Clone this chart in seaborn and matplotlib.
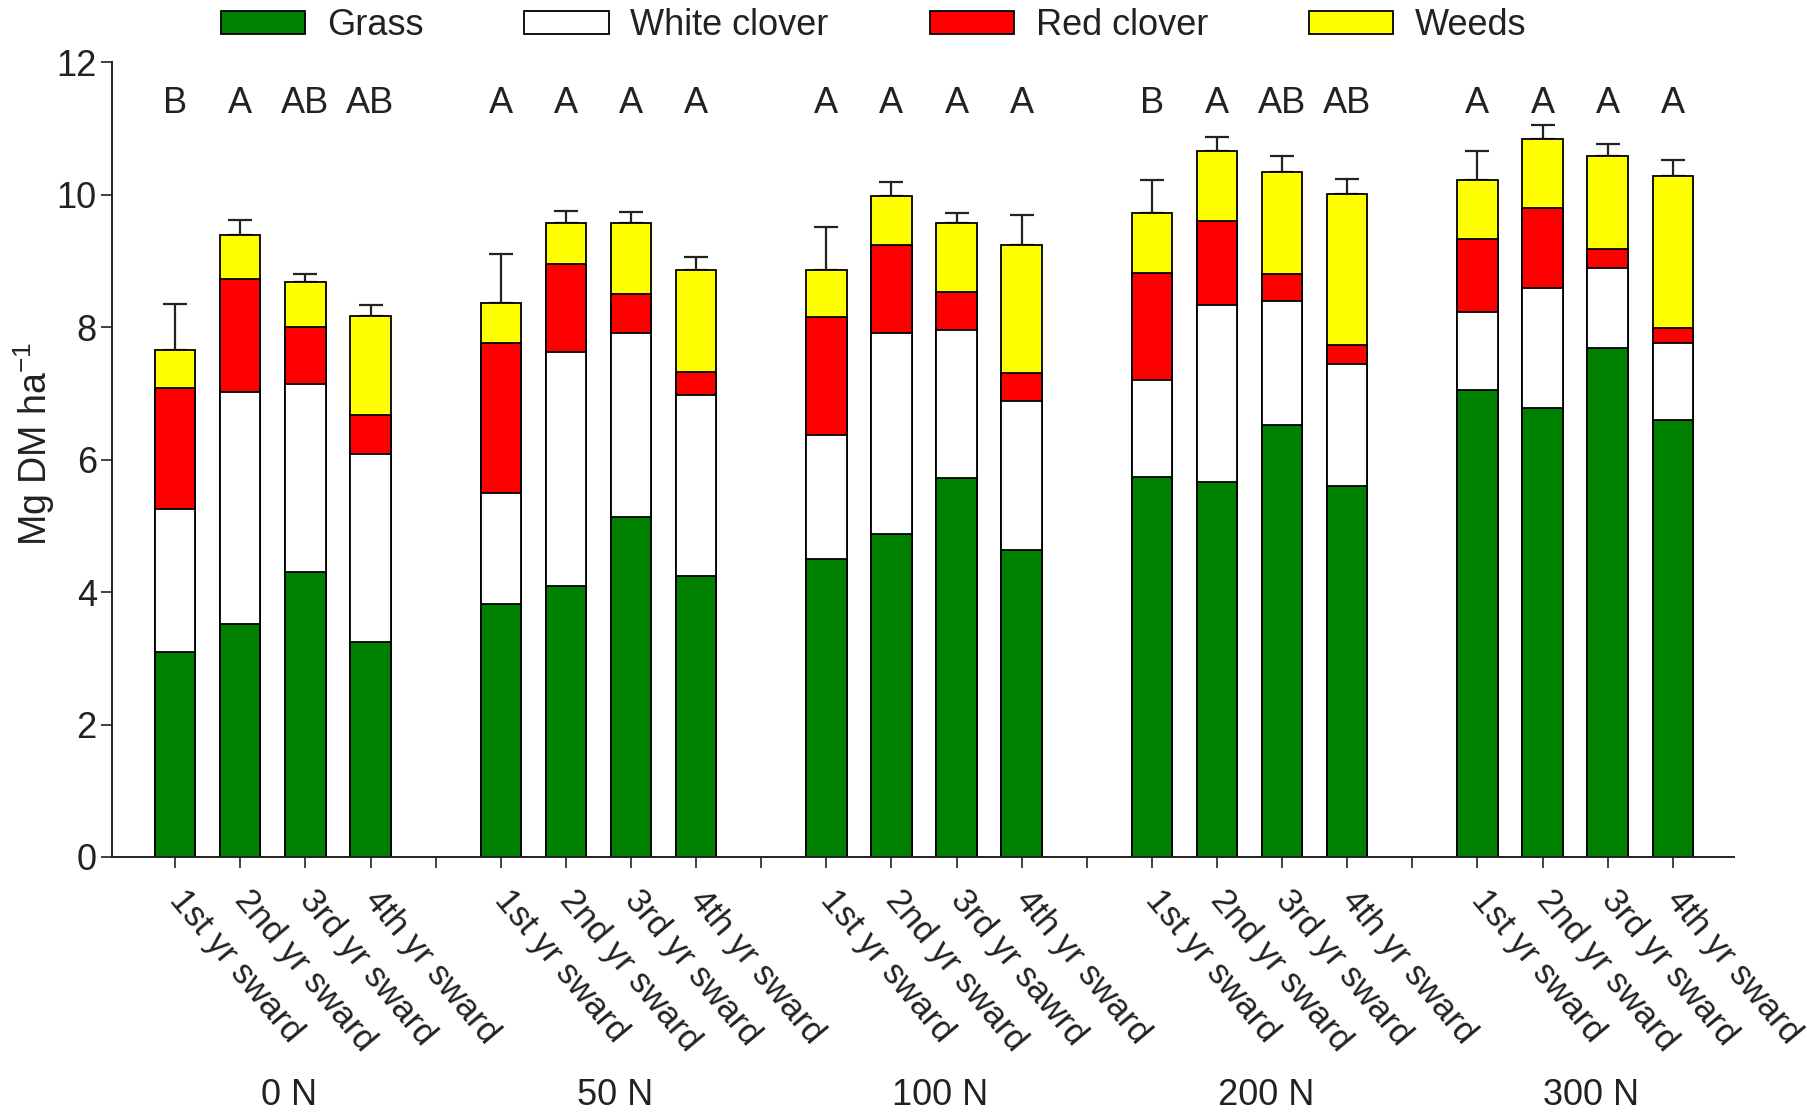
import numpy as np
import pandas as pd
import matplotlib
matplotlib.use("Agg")
import matplotlib.pyplot as plt
import matplotlib.transforms as mtransforms
from matplotlib.patches import Patch
import seaborn as sns

# ---- data (Mg DM per ha) ----
nitrogen_levels = ["0 N", "50 N", "100 N", "200 N", "300 N"]
sward_labels = [
    ["1st yr sward", "2nd yr sward", "3rd yr sward", "4th yr sward"],
    ["1st yr sward", "2nd yr sward", "3rd yr sward", "4th yr sward"],
    ["1st yr sward", "2nd yr sward", "3rd yr sawrd", "4th yr sward"],
    ["1st yr sward", "2nd yr sward", "3rd yr sward", "4th yr sward"],
    ["1st yr sward", "2nd yr sward", "3rd yr sward", "4th yr sward"],
]
grass = [3.10, 3.52, 4.31, 3.25,
         3.82, 4.09, 5.13, 4.24,
         4.50, 4.88, 5.73, 4.64,
         5.74, 5.67, 6.52, 5.61,
         7.06, 6.78, 7.69, 6.60]
white_clover = [2.15, 3.50, 2.83, 2.83,
                1.68, 3.54, 2.78, 2.74,
                1.88, 3.04, 2.23, 2.24,
                1.47, 2.67, 1.87, 1.84,
                1.17, 1.82, 1.21, 1.17]
red_clover = [1.84, 1.71, 0.86, 0.59,
              2.27, 1.32, 0.59, 0.35,
              1.77, 1.33, 0.57, 0.43,
              1.61, 1.27, 0.41, 0.28,
              1.11, 1.20, 0.28, 0.22]
weeds = [0.57, 0.67, 0.68, 1.50,
         0.59, 0.62, 1.07, 1.54,
         0.72, 0.74, 1.04, 1.94,
         0.90, 1.05, 1.55, 2.29,
         0.89, 1.05, 1.41, 2.29]
total_se = [0.69, 0.22, 0.13, 0.17,
            0.74, 0.18, 0.17, 0.19,
            0.64, 0.20, 0.15, 0.45,
            0.51, 0.21, 0.24, 0.22,
            0.43, 0.20, 0.18, 0.24]
letters = ["B", "A", "AB", "AB",
           "A", "A", "A", "A",
           "A", "A", "A", "A",
           "B", "A", "AB", "AB",
           "A", "A", "A", "A"]

components = ["Grass", "White clover", "Red clover", "Weeds"]
colors = {"Grass": "#008000", "White clover": "#ffffff",
          "Red clover": "#ff0000", "Weeds": "#ffff00"}

# bar positions: four swards per N level, one empty slot between levels
n_groups, n_per = len(nitrogen_levels), 4
pos = np.array([g * (n_per + 1) + i for g in range(n_groups) for i in range(n_per)], dtype=float)
gap_pos = np.array([g * (n_per + 1) + n_per for g in range(n_groups - 1)], dtype=float)

layers = np.vstack([grass, white_clover, red_clover, weeds])
cum = np.cumsum(layers, axis=0)
df = pd.DataFrame({"pos": pos})
for name, c in zip(components, cum):
    df[name] = c

sns.set_style("ticks")
plt.rcParams["font.family"] = ["Liberation Sans", "DejaVu Sans"]
plt.rcParams["mathtext.fontset"] = "custom"
plt.rcParams["mathtext.rm"] = "Liberation Sans"
plt.rcParams["mathtext.it"] = "Liberation Sans"

FS = 26
INK = "#222222"
fig = plt.figure(figsize=(18.07, 11.15), dpi=100)
ax = fig.add_axes([0.062, 0.2314, 0.8976, 0.7126])

# stacked bars: draw cumulative totals from the top layer down
for name in reversed(components):
    sns.barplot(data=df, x="pos", y=name, native_scale=True, width=0.62,
                color=colors[name], saturation=1, edgecolor="black",
                linewidth=1.3, errorbar=None, ax=ax, zorder=2)

totals = cum[-1]
ax.errorbar(pos, totals, yerr=[np.zeros_like(totals), np.array(total_se)],
            fmt="none", ecolor=INK, elinewidth=1.6, capsize=8.5,
            capthick=1.6, zorder=1)

for x, lab in zip(pos, letters):
    ax.text(x, 11.38, lab, ha="center", va="center", fontsize=FS, color=INK)

ax.set_xlim(-0.97, 23.94)
ax.set_ylim(0, 12)
ax.set_yticks(np.arange(0, 13, 2))
all_ticks = np.sort(np.concatenate([pos, gap_pos]))
ax.set_xticks(all_ticks)
flat_labels = [lab for grp in sward_labels for lab in grp]
label_map = dict(zip(pos, flat_labels))
ax.set_xticklabels([label_map.get(t, "") for t in all_ticks])
for t in ax.get_xticklabels():
    t.set_rotation(-50)
    t.set_ha("left")
    t.set_va("center")
    t.set_rotation_mode("anchor")
ax.tick_params(axis="x", length=8, width=1.2, pad=19, labelsize=25, colors=INK)
ax.tick_params(axis="y", length=8, width=1.2, pad=3, labelsize=FS, colors=INK)
ax.set_xlabel("")
ax.set_ylabel("Mg DM ha$^{-1}$", fontsize=27, color=INK)
ax.yaxis.set_label_coords(-0.034, 0.52)

sns.despine(ax=ax)
for s in ("left", "bottom"):
    ax.spines[s].set_linewidth(1.4)
    ax.spines[s].set_color(INK)

# N level captions beneath each group
trans = mtransforms.blended_transform_factory(ax.transData, ax.transAxes)
for g, lvl in enumerate(nitrogen_levels):
    center = pos[g * n_per: (g + 1) * n_per].mean() + 0.25
    ax.text(center, -0.30, lvl, transform=trans, ha="center", va="center",
            fontsize=FS, color=INK)

handles = [Patch(facecolor=colors[c], edgecolor="black", linewidth=1.3) for c in components]
fig.legend(handles, components, loc="center left", bbox_to_anchor=(0.1223, 0.977),
           ncol=4, frameon=False, fontsize=FS, handlelength=2.33, handleheight=0.62,
           handletextpad=0.6, columnspacing=2.8, borderpad=0, borderaxespad=0,
           labelcolor=INK)

fig.savefig("out.png", dpi=100)
